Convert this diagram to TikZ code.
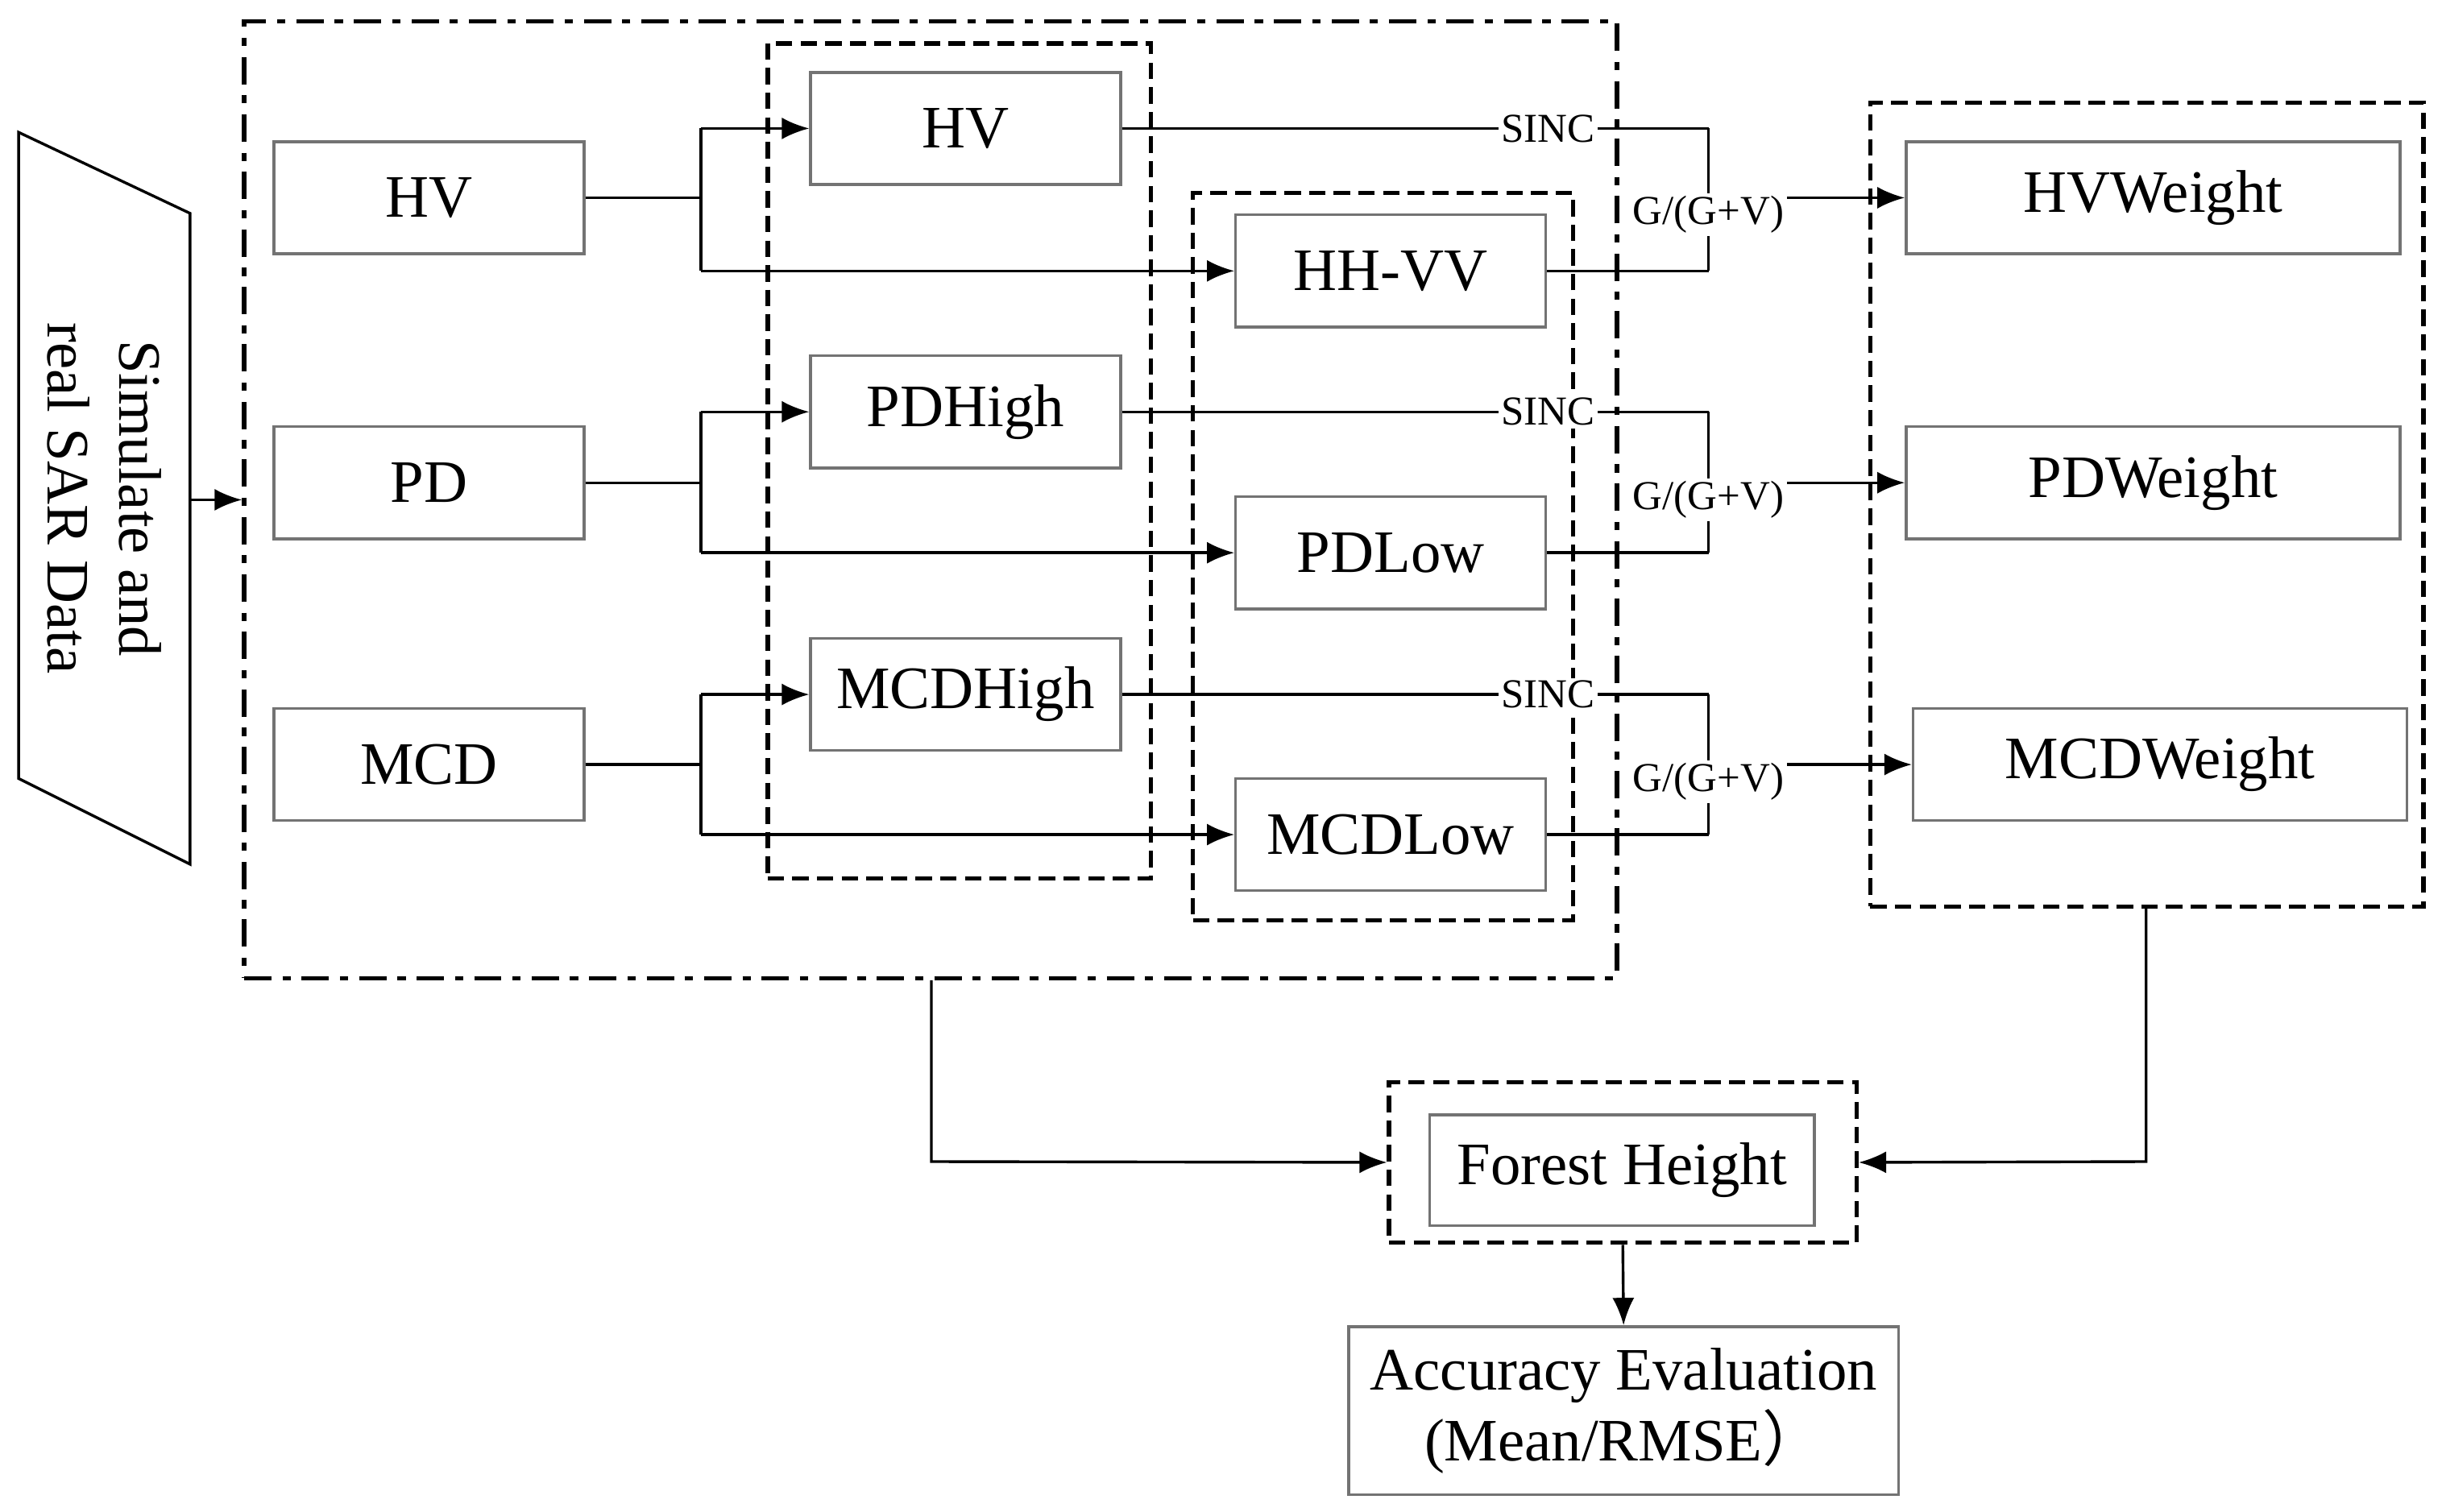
\documentclass[tikz,border=0pt]{standalone}
\usepackage{fontspec}
\setmainfont{Liberation Serif}
\newfontfamily\cjk{Noto Sans CJK SC}
\usetikzlibrary{arrows.meta}
\begin{document}
\begin{tikzpicture}[x=0.01cm,y=-0.01cm,
  box/.style={draw=black!55,line width=0.5pt,minimum width=1.99cm,minimum height=0.72cm,inner sep=0pt,font=\fontsize{11}{13}\selectfont},
  wbox/.style={box,minimum width=3.17cm},
  dd/.style={draw,line width=0.8pt,dash pattern=on 5pt off 2pt on 1.5pt off 2pt,inner sep=0pt},
  dsh/.style={draw,line width=0.8pt,dash pattern=on 3pt off 1.5pt,inner sep=0pt},
  ln/.style={draw,line width=0.5pt},
  arr/.style={ln,-{Latex[length=5pt,width=4pt]}},
  lab/.style={fill=white,inner sep=0.5pt,font=\fontsize{7.5}{9}\selectfont}]
\useasboundingbox (0,0) rectangle (1568,971);
% containers
\node[dd,minimum width=8.81cm,minimum height=6.14cm] (outer) at (597.5,321) {};
\node[dsh,minimum width=2.46cm,minimum height=5.36cm] (g1) at (616,296) {};
\node[dsh,minimum width=2.44cm,minimum height=4.67cm] (g2) at (888,357.5) {};
\node[dsh,minimum width=3.55cm,minimum height=5.16cm] (g3) at (1378.5,324) {};
\node[dsh,minimum width=3.00cm,minimum height=1.03cm] (gf) at (1042,746.5) {};
% input parallelogram
\draw[line width=0.5pt] (12,85) -- (122,137) -- (122,555) -- (12,500) -- cycle;
\node[rotate=-90,align=center,font=\fontsize{11}{13}\selectfont] (sar) at (67,320) {Simulate and\\real SAR Data};
\coordinate (sarR) at (122,321);
\draw[arr] (sarR) -- (outer.west);
% boxes
\node[box] (hv) at (275.5,127) {HV};
\node[box] (pd) at (275.5,310) {PD};
\node[box] (mcd) at (275.5,491) {MCD};
\node[box] (hv2) at (620,82.5) {HV};
\node[box] (hhvv) at (893,174) {HH-VV};
\node[box] (pdh) at (620,264.5) {PDHigh};
\node[box] (pdl) at (893,355) {PDLow};
\node[box] (mcdh) at (620,446) {MCDHigh};
\node[box] (mcdl) at (893,536) {MCDLow};
\node[wbox] (hvw) at (1382.5,127) {HVWeight};
\node[wbox] (pdw) at (1382.5,310) {PDWeight};
\node[wbox] (mcdw) at (1387,491) {MCDWeight};
\node[box,minimum width=2.47cm,minimum height=0.71cm] (fh) at (1041.5,751.5) {Forest Height};
\node[box,minimum width=3.53cm,minimum height=1.08cm,align=center] (acc) at (1042.5,906) {Accuracy Evaluation\\(Mean/RMSE{\cjk ）}};
% left fan-outs
\foreach \s/\a/\b/\y/\ya/\yb in {hv/hv2/hhvv/127/82.5/174, pd/pdh/pdl/310/264.5/355, mcd/mcdh/mcdl/491/446/536}{
  \coordinate (j\s) at (450,\y);
  \coordinate (ja\s) at (450,\ya);
  \coordinate (jb\s) at (450,\yb);
  \draw[ln] (\s.east) -- (j\s);
  \draw[ln] (ja\s) -- (jb\s);
  \draw[arr] (ja\s) -- (\a.west);
  \draw[arr] (jb\s) -- (\b.west);
}
% right merges
\foreach \a/\b/\w/\ya/\yb/\ym in {hv2/hhvv/hvw/82.5/174/127, pdh/pdl/pdw/264.5/355/310, mcdh/mcdl/mcdw/446/536/491}{
  \coordinate (ra\a) at (1097,\ya);
  \coordinate (rb\a) at (1097,\yb);
  \coordinate (rm\a) at (1097,\ym);
  \draw[ln] (\a.east) -- (ra\a);
  \draw[ln] (\b.east) -- (rb\a);
  \draw[ln] (ra\a) -- (rb\a);
  \draw[arr] (rm\a) -- (\w.west);
  \node[lab] at (994,\ya) {SINC};
  \node[lab] at (1097,\ym+11) {G/(G+V)};
}
% bottom
\coordinate (ob) at (598,746);
\coordinate (rb) at (1378,746);
\draw[arr] (outer.south -| ob) -- (ob) -- (gf.west);
\draw[arr] (g3.south -| rb) -- (rb) -- (gf.east);
\draw[arr] (gf.south) -- (acc.north);
\end{tikzpicture}
\end{document}
